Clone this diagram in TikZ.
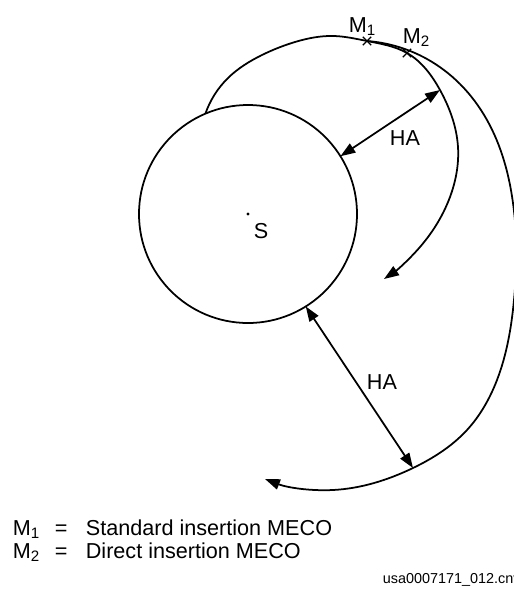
\documentclass[tikz,border=0pt]{standalone}
\usepackage{fontspec}
\setmainfont{Liberation Sans}
\usetikzlibrary{arrows.meta,calc,positioning,shapes.misc,hobby}

\begin{document}
\begin{tikzpicture}[x=0.02cm,y=-0.02cm,line width=1pt,
  >={Triangle[length=8.5pt,width=6pt]},
  lbl/.style={font=\fontsize{12.3}{14}\selectfont,inner sep=0pt},
  small/.style={font=\fontsize{8.2}{10}\selectfont,inner sep=0pt},
  meco/.style={cross out,draw,line width=0.8pt,minimum size=4pt,inner sep=0pt}]
\useasboundingbox (0,0) rectangle (514,589);
\coordinate (S) at (248,214);
% earth and its centre
\draw (S) circle[radius=109];
\fill (S) circle (1.6);
\node[lbl] (Slbl) at (261,231) {S};
% points on the earth
\coordinate (liftoff) at ($(S)+(-113:109)$);
\coordinate (surf1) at ($(S)+(-32:109)$);
\coordinate (surf2) at ($(S)+(58:109)$);
% MECO points
\coordinate (m1) at (367,41);
\coordinate (m2) at (407,53);
% standard insertion trajectory
\draw[->] (liftoff) to[curve through={(228,78) (262,55) (295,42) (334,36) (m1) (m2) (440,90) (458,147) (450,197) (420,247)}] (384,279);
% direct insertion trajectory
\draw[->] (m1) to[curve through={(427,59) (460,84) (487,120) (513,203) (514,300) (497,380) (467,430) (413,468) (333,490)}] (265,479);
\node[meco] (M1) at (m1) {};
\node[meco] (M2) at (m2) {};
\node[lbl,anchor=base west] (M1lbl) at (348,32) {M\textsubscript{1}};
\node[lbl,anchor=base west] (M2lbl) at (402,43) {M\textsubscript{2}};
% height of apogee
\coordinate (apo1) at (440,90);
\coordinate (apo2) at (413,468);
\draw[<->] (surf1) -- (apo1);
\node[lbl] (HA1) at (405,138) {HA};
\draw[<->] (surf2) -- (apo2);
\node[lbl] (HA2) at (382,382) {HA};
% legend
\node[lbl,anchor=base west] (key1) at (12,535) {M\textsubscript{1}};
\node[lbl,anchor=base west] at (54,535) {=};
\node[lbl,anchor=base west] (txt1) at (85,535) {Standard insertion MECO};
\node[lbl,anchor=base west] (key2) at (12,558) {M\textsubscript{2}};
\node[lbl,anchor=base west] at (54,558) {=};
\node[lbl,anchor=base west] (txt2) at (85,558) {Direct insertion MECO};
\node[small,anchor=base west] (fname) at (382,583) {usa0007171\_012.cnv};
\end{tikzpicture}
\end{document}
